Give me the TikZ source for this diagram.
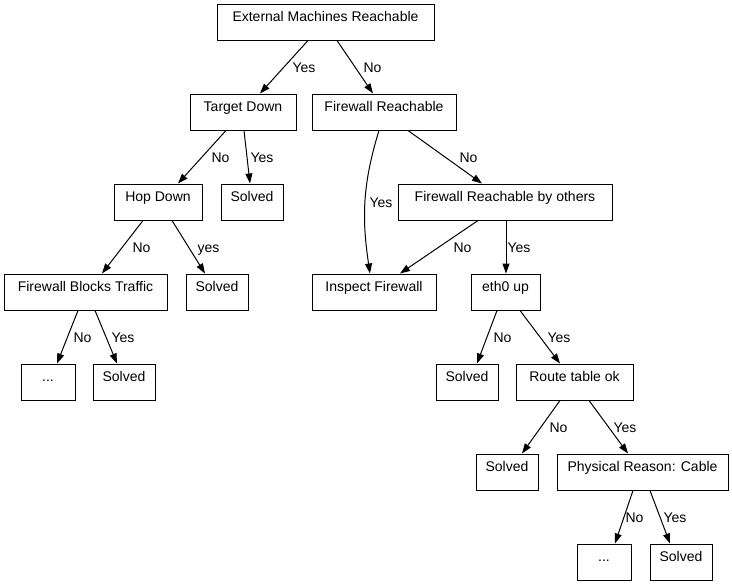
\documentclass[tikz,border=0pt]{standalone}
\usepackage{fontspec}
\setmainfont{Liberation Sans}
\usetikzlibrary{arrows.meta}
\begin{document}
\begin{tikzpicture}[x=1pt,y=-1pt,
  box/.style={draw, line width=1pt, rectangle, inner sep=0pt, minimum height=36pt,
    text height=10pt, text depth=11.5pt, font=\fontsize{14}{16}\selectfont},
  lab/.style={inner sep=0pt, text height=10pt, text depth=0pt,
    font=\fontsize{14}{16}\selectfont, anchor=west},
  arr/.style={line width=1pt, -{Triangle[length=10pt,width=7pt]}}]
\useasboundingbox[fill=white] (0,0) rectangle (732,584);

\node[box, minimum width=217pt] (ext)  at (325.5,22) {External Machines Reachable};
\node[box, minimum width=106pt] (td)   at (243,112)  {Target Down};
\node[box, minimum width=144pt] (fr)   at (384,112)  {Firewall Reachable};
\node[box, minimum width=88pt]  (hd)   at (158,202)  {Hop Down};
\node[box, minimum width=62pt]  (s1)   at (252,202)  {Solved};
\node[box, minimum width=214pt] (frbo) at (505,202)  {Firewall Reachable by others};
\node[box, minimum width=163pt] (fbt)  at (85.5,292) {Firewall Blocks Traffic};
\node[box, minimum width=62pt]  (s2)   at (217,292)  {Solved};
\node[box, minimum width=124pt] (inf)  at (374,292)  {Inspect Firewall};
\node[box, minimum width=69pt]  (eth)  at (505.5,292) {eth0 up};
\node[box, minimum width=54pt]  (d1)   at (48,382)   {...};
\node[box, minimum width=62pt]  (s3)   at (124,382)  {Solved};
\node[box, minimum width=62pt]  (s4)   at (467,382)  {Solved};
\node[box, minimum width=117pt] (rt)   at (574.5,382) {Route table ok};
\node[box, minimum width=62pt]  (s5)   at (507,472)  {Solved};
\node[box, minimum width=171pt] (phys) at (642.5,472) {Physical Reason: Cable};
\node[box, minimum width=54pt]  (d2)   at (604,562)  {...};
\node[box, minimum width=62pt]  (s6)   at (681,562)  {Solved};

\draw[arr] ([xshift=-17.5pt]ext.south) -- node[lab,xshift=8pt]{Yes} ([xshift=17pt]td.north);
\draw[arr] ([xshift=11.5pt]ext.south) -- node[lab,xshift=8pt]{No} ([xshift=-11pt]fr.north);
\draw[arr] ([xshift=-17pt]td.south) -- node[lab,xshift=9pt]{No} ([xshift=20pt]hd.north);
\draw[arr] ([xshift=1pt]td.south) -- node[lab,xshift=3pt]{Yes} ([xshift=-2pt]s1.north);
\draw[arr] ([xshift=-15pt]hd.south) -- node[lab,xshift=9.5pt]{No} ([xshift=16.5pt]fbt.north);
\draw[arr] ([xshift=14pt]hd.south) -- node[lab,xshift=8.5pt]{yes} ([xshift=-12pt]s2.north);
\draw[arr] ([xshift=-5pt]fr.south) .. controls +(-17,55) and +(-8,-54) .. node[lab,xshift=4pt]{Yes} ([xshift=-4pt]inf.north);
\draw[arr] ([xshift=24pt]fr.south) -- node[lab,xshift=14pt]{No} ([xshift=-23pt]frbo.north);
\draw[arr] ([xshift=-27pt]frbo.south) -- node[lab,xshift=14pt]{No} ([xshift=26pt]inf.north);
\draw[arr] ([xshift=1pt]frbo.south) -- node[lab,xshift=1pt]{Yes} ([xshift=0.5pt]eth.north);
\draw[arr] ([xshift=-7.5pt]fbt.south) -- node[lab,xshift=5.5pt]{No} ([xshift=9pt]d1.north);
\draw[arr] ([xshift=9.5pt]fbt.south) -- node[lab,xshift=5pt]{Yes} ([xshift=-7pt]s3.north);
\draw[arr] ([xshift=-8.5pt]eth.south) -- node[lab,xshift=6pt]{No} ([xshift=10pt]s4.north);
\draw[arr] ([xshift=14.5pt]eth.south) -- node[lab,xshift=7pt]{Yes} ([xshift=-14.5pt]rt.north);
\draw[arr] ([xshift=-14.5pt]rt.south) -- node[lab,xshift=8pt]{No} ([xshift=15pt]s5.north);
\draw[arr] ([xshift=14.5pt]rt.south) -- node[lab,xshift=4.5pt]{Yes} ([xshift=-14.5pt]phys.north);
\draw[arr] ([xshift=-9.5pt]phys.south) -- node[lab,xshift=1pt]{No} ([xshift=11pt]d2.north);
\draw[arr] ([xshift=7.5pt]phys.south) -- node[lab,xshift=3pt]{Yes} ([xshift=-11pt]s6.north);
\end{tikzpicture}
\end{document}
